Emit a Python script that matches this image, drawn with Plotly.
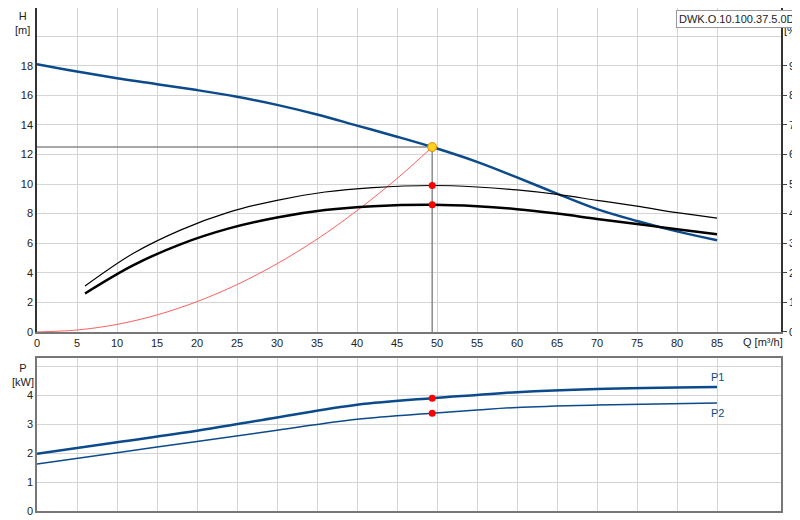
import plotly.graph_objects as go

# data
q_h = [0, 5, 10, 15, 20, 25, 30, 35, 40, 45, 49.4, 55, 60, 65, 70, 75, 80, 85]
h = [18.1, 17.6, 17.15, 16.75, 16.35, 15.9, 15.35, 14.7, 13.95, 13.2, 12.5, 11.5, 10.45, 9.35, 8.3, 7.5, 6.8, 6.2]

q_eta = [6, 12, 18, 24, 30, 36, 42, 49.4, 55, 60, 65, 70, 75, 80, 85]
eta_hyd = [15.5, 26.5, 34.5, 40.5, 44.5, 47.3, 48.8, 49.5, 49.0, 48.0, 46.5, 44.5, 42.5, 40.3, 38.5]
eta_tot = [13, 22.5, 29.7, 35, 38.7, 41.2, 42.5, 43, 42.5, 41.5, 40, 38.2, 36.5, 34.7, 33]

q_sys = [0, 5, 10, 15, 20, 25, 30, 35, 40, 45, 49.4]
h_sys = [0, 0.13, 0.51, 1.15, 2.05, 3.2, 4.61, 6.27, 8.2, 10.37, 12.5]

q_p = [0, 10, 20, 30, 40, 49.4, 55, 60, 70, 85]
p1 = [1.98, 2.38, 2.78, 3.24, 3.68, 3.91, 4.02, 4.12, 4.23, 4.3]
p2 = [1.63, 2.02, 2.41, 2.8, 3.18, 3.39, 3.5, 3.59, 3.67, 3.74]

q_op = 49.4
h_op = 12.5
eta_op = [49.5, 43]
p_op = [3.91, 3.39]

x_ticks = list(range(0, 90, 5))
blue = "#0b4a8b"
grid = "#d4d4d4"

fig = go.Figure()
fig.add_trace(go.Scatter(x=[0, q_op, q_op], y=[h_op, h_op, 0], mode="lines",
                         line=dict(color="#8c8c8c", width=1.5)))
fig.add_trace(go.Scatter(x=q_sys, y=h_sys, mode="lines", line=dict(color="#ff6060", width=1, shape="spline")))
fig.add_trace(go.Scatter(x=q_h, y=h, mode="lines", line=dict(color=blue, width=2.5, shape="spline")))
fig.add_trace(go.Scatter(x=q_eta, y=eta_hyd, yaxis="y2", mode="lines",
                         line=dict(color="black", width=1.2, shape="spline")))
fig.add_trace(go.Scatter(x=q_eta, y=eta_tot, yaxis="y2", mode="lines",
                         line=dict(color="black", width=2.5, shape="spline")))
fig.add_trace(go.Scatter(x=[q_op, q_op], y=eta_op, yaxis="y2", mode="markers",
                         marker=dict(color="red", size=7)))
fig.add_trace(go.Scatter(x=[q_op], y=[h_op], mode="markers",
                         marker=dict(color="#ffd21f", size=9, line=dict(color="#e08a00", width=1))))
fig.add_trace(go.Scatter(x=q_p, y=p1, xaxis="x2", yaxis="y3", mode="lines",
                         line=dict(color=blue, width=2.5, shape="spline")))
fig.add_trace(go.Scatter(x=q_p, y=p2, xaxis="x2", yaxis="y3", mode="lines",
                         line=dict(color=blue, width=1.5, shape="spline")))
fig.add_trace(go.Scatter(x=[q_op, q_op], y=p_op, xaxis="x2", yaxis="y3", mode="markers",
                         marker=dict(color="red", size=7)))

font = dict(family="Liberation Sans, Arial", size=11, color="#222")
ax = dict(showgrid=True, gridcolor=grid, gridwidth=1, zeroline=False, tickfont=font, automargin=False)
fig.update_layout(
    width=800, height=520, showlegend=False, plot_bgcolor="white", paper_bgcolor="white",
    margin=dict(l=29, r=27, t=0, b=17),
    xaxis=dict(ax, domain=[0, 1], range=[0, 93], tickvals=x_ticks, anchor="y",
               showline=True, linecolor="#777", linewidth=2, mirror=True, ticks=""),
    yaxis=dict(ax, domain=[0.356, 1], range=[0, 21.9], tickvals=list(range(0, 22, 2)),
               ticktext=[str(v) for v in range(0, 20, 2)] + [""],
               showline=True, linecolor="#333", linewidth=1.5, ticks=""),
    yaxis2=dict(range=[0, 109.5], overlaying="y", side="right", anchor="x", showgrid=False,
                zeroline=False, tickvals=list(range(0, 100, 10)), ticks="outside", ticklen=4,
                showline=True, linecolor="#333", linewidth=1.5, tickfont=font, automargin=False),
    xaxis2=dict(ax, domain=[0, 1], range=[0, 93], tickvals=x_ticks, anchor="y3",
                showticklabels=False, showline=True, linecolor="#777", linewidth=1.5, mirror=True),
    yaxis3=dict(ax, domain=[0, 0.304], range=[0, 5.3], tickvals=[0, 1, 2, 3, 4, 5],
                ticktext=["0", "1", "2", "3", "4", ""],
                showline=True, linecolor="#777", linewidth=1.5, mirror=True),
    annotations=[
        dict(text="H<br>[m]", x=-0.019, y=1.0, xref="paper", yref="paper", showarrow=False,
             xanchor="center", yanchor="top", font=font, align="center"),
        dict(text="eta<br>[%]", x=1.002, y=1.0, xref="paper", yref="paper", showarrow=False,
             xanchor="left", yanchor="top", font=font, align="left"),
        dict(text="P<br>[kW]", x=-0.019, y=0.3, xref="paper", yref="paper", showarrow=False,
             xanchor="center", yanchor="top", font=font, align="center"),
        dict(text="Q [m³/h]", x=0.976, y=0.356, xref="paper", yref="paper", showarrow=False,
             xanchor="center", yanchor="top", yshift=-2, font=font),
        dict(text="DWK.O.10.100.37.5.0D", x=1.023, y=0.997, xref="paper", yref="paper",
             showarrow=False, xanchor="right", yanchor="top", font=font,
             bordercolor="#999", borderwidth=1, bgcolor="white", borderpad=2),
        dict(text="P1", x=85, y=p1[-1], xref="x2", yref="y3", showarrow=False,
             yanchor="bottom", yshift=2, font=dict(font, color=blue)),
        dict(text="P2", x=85, y=p2[-1], xref="x2", yref="y3", showarrow=False,
             yanchor="top", yshift=-2, font=dict(font, color=blue)),
    ],
)
fig.write_html("out.html")
